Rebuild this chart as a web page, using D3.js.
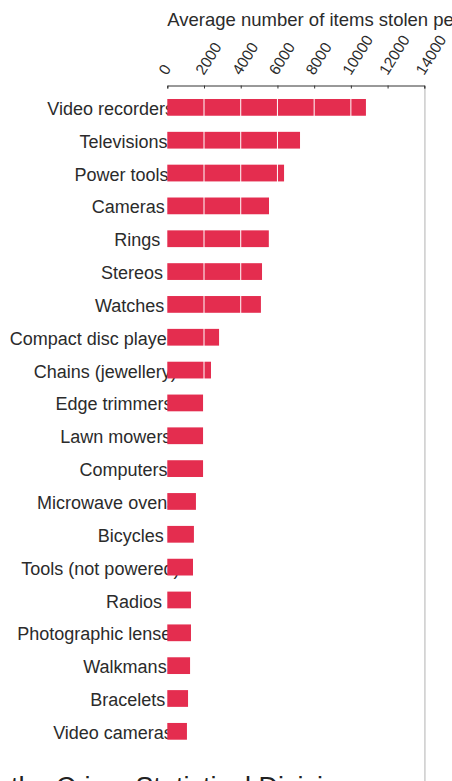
<!DOCTYPE html>
<html>
<head>
<meta charset="utf-8">
<script src="https://cdn.jsdelivr.net/npm/d3@7"></script>
<style>
  html, body { margin: 0; padding: 0; background: #fff; }
  svg { display: block; font-family: Helvetica, Arial, "Liberation Sans", sans-serif; }
</style>
</head>
<body>
<svg id="chart" width="452" height="781"></svg>
<script>
const categories = ["Video recorders","Televisions","Power tools","Cameras","Rings","Stereos","Watches",
  "Compact disc players","Chains (jewellery)","Edge trimmers","Lawn mowers","Computers","Microwave ovens",
  "Bicycles","Tools (not powered)","Radios","Photographic lenses","Walkmans","Bracelets","Video cameras"];
const values = [10820, 7230, 6360, 5540, 5530, 5160, 5100, 2820, 2380, 1950, 1950, 1950, 1560,
  1450, 1400, 1290, 1290, 1240, 1130, 1070];
const tickValues = [0, 2000, 4000, 6000, 8000, 10000, 12000, 14000];
const titleText = "Average number of items stolen per year";
const sourceText = "Source: the Crime Statistical Division";

const W = 452, H = 781;
const svg = d3.select("#chart");

const x = d3.scaleLinear().domain([0, 14000]).range([167.3, 424.3]);
const y = d3.scaleBand().domain(categories).range([90.95, 747.75]).paddingInner(0.49).paddingOuter(0.245);

const axisY = 85.5;
const textColor = "#2b2b2b";

// title
svg.append("text")
  .attr("x", x(0)).attr("y", 25.5)
  .attr("font-size", 18.5).attr("fill", textColor)
  .text(titleText);

// right border line at domain max
svg.append("line")
  .attr("x1", x(14000) + 0.6).attr("x2", x(14000) + 0.6)
  .attr("y1", axisY + 1).attr("y2", H)
  .attr("stroke", "#cfcfcf").attr("stroke-width", 1.6);

// labels (drawn before bars so bars overlap them)
const labels = svg.append("g").selectAll("text")
  .data(categories).join("text")
  .attr("y", d => y(d) + y.bandwidth() / 2)
  .attr("dy", "0.42em")
  .attr("font-size", 18).attr("fill", textColor)
  .attr("text-anchor", "start")
  .text(d => d);
labels.attr("x", function() {
  const w = this.getComputedTextLength();
  return x(0) - 14.9 - 0.829 * w;
});

// bars
svg.append("g").selectAll("rect")
  .data(values).join("rect")
  .attr("x", x(0))
  .attr("y", (d, i) => y(categories[i]))
  .attr("width", d => x(d) - x(0))
  .attr("height", y.bandwidth())
  .attr("fill", "#e42d4f");

// white gridlines over bars
svg.append("g").selectAll("line")
  .data(tickValues.filter(t => t > 0 && t < 14000)).join("line")
  .attr("x1", d => x(d)).attr("x2", d => x(d))
  .attr("y1", axisY + 4).attr("y2", H)
  .attr("stroke", "#fff").attr("stroke-width", 1);

// axis
const axis = d3.axisBottom(x).tickValues(tickValues).tickSize(3).tickFormat(d3.format("d"));
const gAxis = svg.append("g").attr("transform", `translate(0,${axisY})`).call(axis);
gAxis.select(".domain").attr("stroke", "#333");
gAxis.selectAll(".tick line").attr("stroke", "#333");
gAxis.selectAll(".tick text")
  .attr("y", null).attr("dy", null)
  .attr("font-size", 15.5)
  .attr("font-family", "Helvetica, Arial, 'Liberation Sans', sans-serif")
  .attr("fill", textColor)
  .attr("text-anchor", "start")
  .attr("transform", "translate(-0.7,-9.5) rotate(-58)");

// source line, cut at the bottom edge
svg.append("text")
  .attr("x", 353).attr("y", 796)
  .attr("text-anchor", "end")
  .attr("font-size", 27).attr("fill", "#222")
  .text(sourceText);
</script>
</body>
</html>
